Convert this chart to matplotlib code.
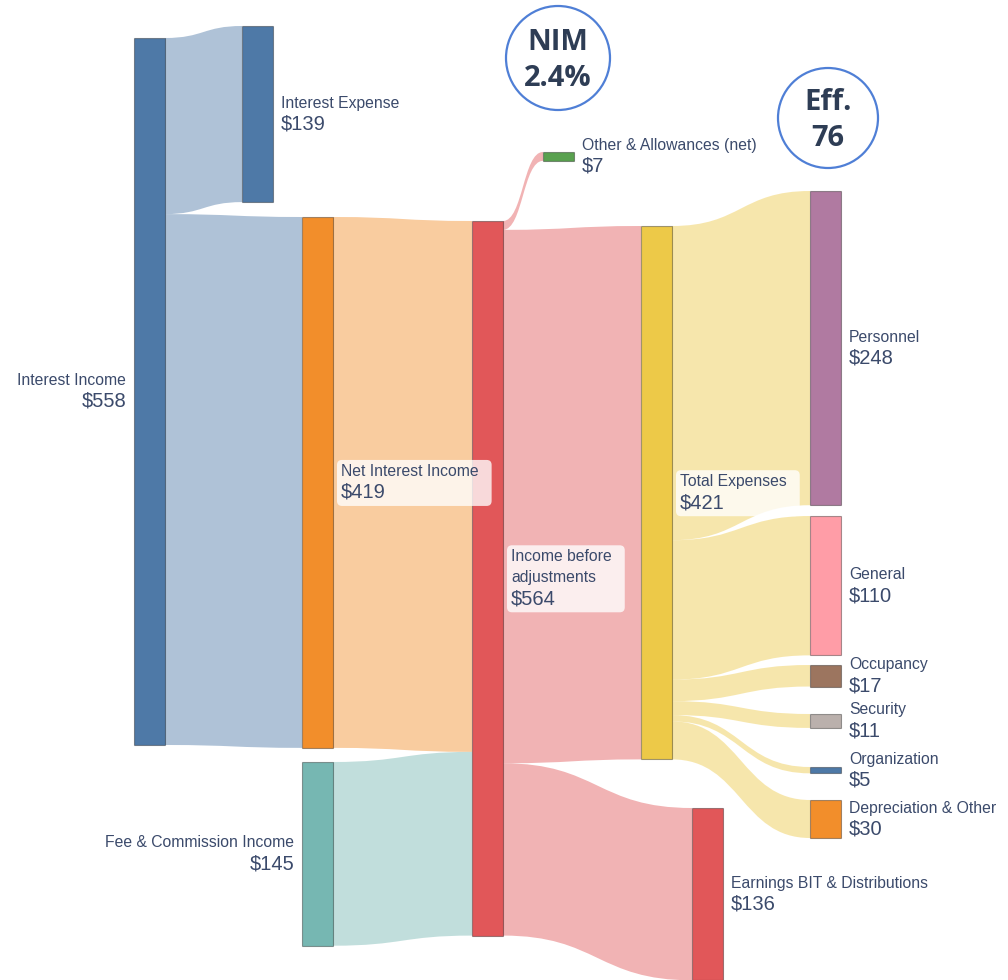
import matplotlib.pyplot as plt
from matplotlib.path import Path
from matplotlib.patches import PathPatch, Rectangle, Circle, FancyBboxPatch
from matplotlib.transforms import Bbox

# nodes
labels = ['Interest Income', 'Interest Expense', 'Net Interest Income',
          'Fee & Commission Income', 'Income before\nadjustments',
          'Other & Allowances (net)', 'Total Expenses',
          'Earnings BIT & Distributions', 'Personnel', 'General',
          'Occupancy', 'Security', 'Organization', 'Depreciation & Other']
values = [558, 139, 419, 145, 564, 7, 421, 136, 248, 110, 17, 11, 5, 30]

# links
link_source = [0, 0, 2, 3, 4, 4, 4, 6, 6, 6, 6, 6, 6]
link_target = [1, 2, 4, 4, 5, 6, 7, 8, 9, 10, 11, 12, 13]
link_value = [139, 419, 419, 145, 7, 421, 136, 248, 110, 17, 11, 5, 30]

nim_text = 'NIM\n2.4%'
eff_text = 'Eff.\n76'

# layout (pixels)
SCALE = 1.267   # px per $
NODE_W = 31
node_left = [134, 242, 302, 302, 472, 543, 641, 692, 810, 810, 810, 810, 810, 810]
node_top = [38, 26, 217, 762, 221, 152, 226, 808, 191, 516, 665, 714, 767, 800]
label_left = {0, 3}
boxed = {2, 4, 6}
node_colors = ['#4e79a7', '#4e79a7', '#f28e2b', '#76b7b2', '#e15759', '#59a14f',
               '#edc948', '#e15759', '#b07aa1', '#ff9da7', '#9c755f', '#bab0ac',
               '#4e79a7', '#f28e2b']
TEXT_C = '#3b4a6b'
FONT = 'Liberation Sans'

fig = plt.figure(figsize=(10.08, 9.8), dpi=100)
ax = fig.add_axes([0, 0, 1, 1])
ax.set_xlim(0, 1008)
ax.set_ylim(980, 0)
ax.axis('off')

heights = [v * SCALE for v in values]
out_off = list(node_top)
in_off = list(node_top)

for s, t, v in zip(link_source, link_target, link_value):
    h = v * SCALE
    x0 = node_left[s] + NODE_W
    x1 = node_left[t]
    xm = (x0 + x1) / 2
    s0, s1 = out_off[s], out_off[s] + h
    t0, t1 = in_off[t], in_off[t] + h
    out_off[s] += h
    in_off[t] += h
    verts = [(x0, s0), (xm, s0), (xm, t0), (x1, t0), (x1, t1),
             (xm, t1), (xm, s1), (x0, s1), (x0, s0)]
    codes = [Path.MOVETO, Path.CURVE4, Path.CURVE4, Path.CURVE4, Path.LINETO,
             Path.CURVE4, Path.CURVE4, Path.CURVE4, Path.CLOSEPOLY]
    ax.add_patch(PathPatch(Path(verts, codes), facecolor=node_colors[s],
                           alpha=0.45, lw=0, zorder=1))

for i in range(len(values)):
    ax.add_patch(Rectangle((node_left[i], node_top[i]), NODE_W, heights[i],
                           facecolor=node_colors[i], edgecolor=(0, 0, 0, 0.35),
                           lw=0.8, zorder=2))

fig.canvas.draw()
renderer = fig.canvas.get_renderer()
inv = ax.transData.inverted()

for i, (name, v) in enumerate(zip(labels, values)):
    cy = node_top[i] + heights[i] / 2
    lines = name.split('\n')
    n = len(lines)
    vy = cy + 10 + 10.5 * (n - 1)
    if i in label_left:
        x, ha = node_left[i] - 8, 'right'
    else:
        x, ha = node_left[i] + NODE_W + 8, 'left'
    texts = []
    for k, line in enumerate(lines):
        texts.append(ax.text(x, vy - 21 * (n - k), line, ha=ha, va='center',
                             fontsize=11.3, color=TEXT_C, family=FONT, zorder=5))
    texts.append(ax.text(x, vy, f'${v}', ha=ha, va='center', fontsize=14.5,
                         color=TEXT_C, family=FONT, zorder=5))
    if i in boxed:
        bb = Bbox.union([t.get_window_extent(renderer) for t in texts])
        (bx0, by0), (bx1, by1) = inv.transform([(bb.x0, bb.y0), (bb.x1, bb.y1)])
        pad = 4
        ax.add_patch(FancyBboxPatch((bx0 - pad, by1 - pad), bx1 - bx0 + 2 * pad + 9,
                                    by0 - by1 + 2 * pad,
                                    boxstyle='round,pad=0,rounding_size=5',
                                    facecolor='white', alpha=0.78, lw=0, zorder=4))

# KPI circles
for (cx, cy, r), txt in [((558, 58, 52), nim_text), ((828, 118, 50), eff_text)]:
    ax.add_patch(Circle((cx, cy), r, facecolor='white', edgecolor='#4f7fd6',
                        lw=1.6, zorder=6))
    top, bottom = txt.split('\n')
    ax.text(cx, cy - 16, top, ha='center', va='center', fontsize=21,
            fontweight='bold', family='Open Sans', color='#2e3d55', zorder=7)
    ax.text(cx, cy + 20, bottom, ha='center', va='center', fontsize=21,
            fontweight='bold', family='Open Sans', color='#2e3d55', zorder=7)

fig.savefig('out.png', dpi=100)
